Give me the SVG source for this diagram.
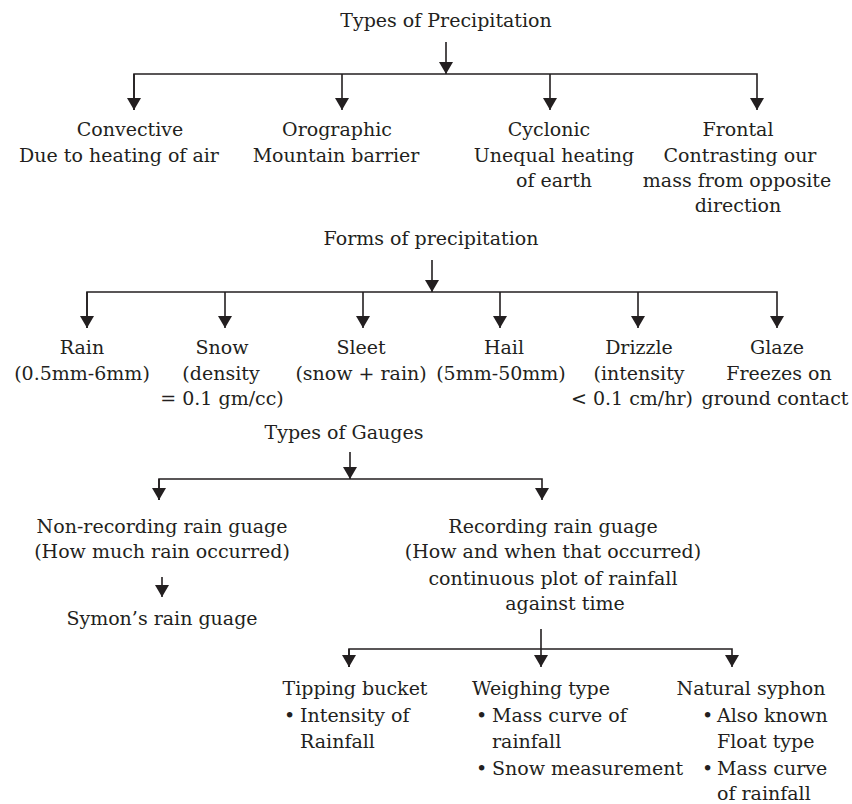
<svg xmlns="http://www.w3.org/2000/svg" width="852" height="804" viewBox="0 0 852 804">
<style>
text{font-family:"DejaVu Serif","Liberation Serif",serif;font-size:19px;fill:#231f20;}
.m{text-anchor:middle;}
.s{text-anchor:start;}
.c{fill:none;stroke:#231f20;stroke-width:1.6;}
</style>
<defs>
<marker id="ah" markerUnits="userSpaceOnUse" viewBox="0 -7 12 14" refX="12" refY="0" markerWidth="12" markerHeight="14" orient="auto">
<path d="M0,-7 L12,0 L0,7 z" fill="#231f20"/>
</marker>
</defs>
<rect width="852" height="804" fill="#ffffff"/>
<g id="connectors">
<!-- Types of Precipitation -->
<path class="c" d="M446,42 V74" marker-end="url(#ah)"/>
<path class="c" d="M134,110 V74 H757 V110" marker-end="url(#ah)"/>
<path class="c" d="M134,74 V110" marker-end="url(#ah)"/>
<path class="c" d="M342,74 V110" marker-end="url(#ah)"/>
<path class="c" d="M550,74 V110" marker-end="url(#ah)"/>
<!-- Forms -->
<path class="c" d="M432,260 V292" marker-end="url(#ah)"/>
<path class="c" d="M87,328 V292 H777 V328" marker-end="url(#ah)"/>
<path class="c" d="M87,292 V328" marker-end="url(#ah)"/>
<path class="c" d="M225,292 V328" marker-end="url(#ah)"/>
<path class="c" d="M363,292 V328" marker-end="url(#ah)"/>
<path class="c" d="M500,292 V328" marker-end="url(#ah)"/>
<path class="c" d="M638,292 V328" marker-end="url(#ah)"/>
<!-- Gauges -->
<path class="c" d="M350,452 V479" marker-end="url(#ah)"/>
<path class="c" d="M159,500 V479 H542 V500" marker-end="url(#ah)"/>
<path class="c" d="M159,479 V500" marker-end="url(#ah)"/>
<path class="c" d="M162,577 V597" marker-end="url(#ah)"/>
<!-- Recording -->
<path class="c" d="M541,629 V667" marker-end="url(#ah)"/>
<path class="c" d="M349,667 V649 H732 V667" marker-end="url(#ah)"/>
<path class="c" d="M349,649 V667" marker-end="url(#ah)"/>
</g>
<g id="types-of-precipitation"><text class="m" x="446" y="27">Types of Precipitation</text></g>
<g id="convective"><text class="m" x="130" y="136">Convective</text><text class="m" x="119" y="162">Due to heating of air</text></g>
<g id="orographic"><text class="m" x="337" y="136">Orographic</text><text class="m" x="336" y="162">Mountain barrier</text></g>
<g id="cyclonic"><text class="m" x="549" y="136">Cyclonic</text><text class="m" x="554" y="162">Unequal heating</text><text class="m" x="554" y="187">of earth</text></g>
<g id="frontal"><text class="m" x="738" y="136">Frontal</text><text class="m" x="740" y="162">Contrasting our</text><text class="m" x="737" y="187">mass from opposite</text><text class="m" x="738" y="212">direction</text></g>
<g id="forms-of-precipitation"><text class="m" x="431" y="245">Forms of precipitation</text></g>
<g id="rain"><text class="m" x="82" y="354">Rain</text><text class="m" x="82" y="380">(0.5mm-6mm)</text></g>
<g id="snow"><text class="m" x="222" y="354">Snow</text><text class="m" x="221" y="380">(density</text><text class="m" x="222" y="405">= 0.1 gm/cc)</text></g>
<g id="sleet"><text class="m" x="361" y="354">Sleet</text><text class="m" x="361" y="380">(snow + rain)</text></g>
<g id="hail"><text class="m" x="504" y="354">Hail</text><text class="m" x="501" y="380">(5mm-50mm)</text></g>
<g id="drizzle"><text class="m" x="639" y="354">Drizzle</text><text class="m" x="639" y="380">(intensity</text><text class="m" x="632" y="405">&lt; 0.1 cm/hr)</text></g>
<g id="glaze"><text class="m" x="777" y="354">Glaze</text><text class="m" x="779" y="380">Freezes on</text><text class="m" x="775" y="405">ground contact</text></g>
<g id="types-of-gauges"><text class="m" x="344" y="439">Types of Gauges</text></g>
<g id="non-recording"><text class="m" x="162" y="533">Non-recording rain guage</text><text class="m" x="162" y="558">(How much rain occurred)</text></g>
<g id="symons"><text class="m" x="162" y="625">Symon’s rain guage</text></g>
<g id="recording"><text class="m" x="553" y="533">Recording rain guage</text><text class="m" x="553" y="558">(How and when that occurred)</text><text class="m" x="553" y="585">continuous plot of rainfall</text><text class="m" x="565" y="610">against time</text></g>
<g id="tipping-bucket"><text class="m" x="355" y="695">Tipping bucket</text><text class="s" x="284" y="722">•</text><text class="s" x="300" y="722">Intensity of</text><text class="s" x="300" y="748">Rainfall</text></g>
<g id="weighing-type"><text class="m" x="541" y="695">Weighing type</text><text class="s" x="476" y="722">•</text><text class="s" x="492" y="722">Mass curve of</text><text class="s" x="492" y="748">rainfall</text><text class="s" x="476" y="775">•</text><text class="s" x="492" y="775">Snow measurement</text></g>
<g id="natural-syphon"><text class="m" x="751" y="695">Natural syphon</text><text class="s" x="702" y="722">•</text><text class="s" x="717" y="722">Also known</text><text class="s" x="717" y="748">Float type</text><text class="s" x="702" y="775">•</text><text class="s" x="717" y="775">Mass curve</text><text class="s" x="717" y="800">of rainfall</text></g>
</svg>
